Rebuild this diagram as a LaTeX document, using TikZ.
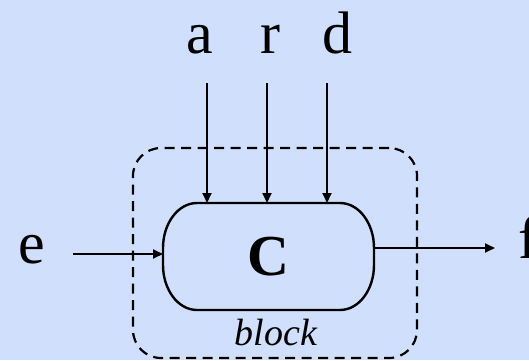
\documentclass[tikz,border=0pt]{standalone}
\usepackage{fontspec}
\setmainfont{Liberation Serif}
\usetikzlibrary{arrows.meta, positioning, calc}
\definecolor{bgblue}{HTML}{CFDFFC}
\definecolor{ink}{HTML}{000000}
\tikzset{
  sig/.style={font=\fontsize{60}{66}\selectfont, text=ink, inner sep=0pt, anchor=base},
  cbox/.style={minimum width=211pt, minimum height=107pt, inner sep=0pt, outer sep=0pt,
               font=\fontsize{58}{64}\selectfont\bfseries, text=ink},
  cline/.style={draw=ink, line width=2.4pt},
  blk/.style={draw=ink, dash pattern=on 10pt off 6.5pt, line width=2.2pt, rounded corners=28pt,
              minimum width=284pt, minimum height=210pt, inner sep=0pt, outer sep=0pt},
  blkname/.style={font=\fontsize{38}{44}\selectfont\itshape, text=ink, inner sep=0pt, anchor=base},
  fl/.style={-{Triangle[length=10pt, width=9pt]}, line width=1.8pt, draw=ink},
}
\begin{document}
\begin{tikzpicture}[x=1pt, y=1pt]
  \fill[bgblue] (0,0) rectangle (529,360);
  \useasboundingbox (0,0) rectangle (529,360);
  \node[blk] (blk) at (275,107) {};
  \node[cbox] (C) at (268.5,103.5) {C};
  \draw[cline] ([xshift=34pt]C.north west) -- ([xshift=-34pt]C.north east)
    arc[start angle=90, end angle=0, x radius=34pt, y radius=45pt]
    -- ([yshift=45pt]C.south east)
    arc[start angle=0, end angle=-90, x radius=34pt, y radius=45pt]
    -- ([xshift=34pt]C.south west)
    arc[start angle=270, end angle=180, x radius=34pt, y radius=45pt]
    -- ([yshift=-45pt]C.north west)
    arc[start angle=180, end angle=90, x radius=34pt, y radius=45pt] -- cycle;
  \node[blkname] (blkname) at (276,15) {block};
  % inputs from above
  \node[sig] (a) at (199.5,307) {a};
  \node[sig] (r) at (270,307) {r};
  \node[sig] (d) at (337,307) {d};
  \coordinate (a0) at (207,277);
  \coordinate (r0) at (267,277);
  \coordinate (d0) at (327,277);
  \draw[fl] (a0) -- (a0 |- C.north);
  \draw[fl] (r0) -- (r0 |- C.north);
  \draw[fl] (d0) -- (d0 |- C.north);
  % side input and output
  \node[sig] (e) at (31.5,97) {e};
  \node[sig, anchor=base west] (f) at (518,102) {f};
  \coordinate (e0) at (73,106);
  \coordinate (f0) at (495,112);
  \draw[fl] (e0) -- (e0 -| C.west);
  \draw[fl] (f0 -| C.east) -- (f0);
\end{tikzpicture}
\end{document}
